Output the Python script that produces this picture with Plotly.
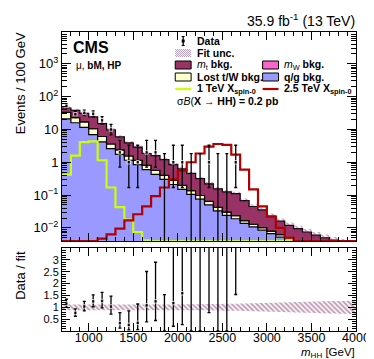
import numpy as np
import plotly.graph_objects as go

# ---------------- data ----------------
bin_edges = list(range(700, 4001, 100))   # m_HH bins [GeV]

qg_bkg = [21, 16, 11.5, 7.0, 4.2, 2.6, 1.75, 1.15, 0.85, 0.6, 0.43, 0.3, 0.21, 0.15,
          0.105, 0.075, 0.05, 0.033, 0.024, 0.019, 0.0137, 0.0107, 0.0085, 0.0067,
          0.0052, 0.0042, 0.0035, 0.0028, 0.0022, 0.0018, 0.0015, 0.0012, 0.001]
lost_bkg = [12, 7, 5.5, 3.5, 1.9, 1.0, 0.62, 0.4, 0.29, 0.2, 0.14, 0.1, 0.07, 0.048,
            0.032, 0.022, 0.014, 0.009, 0.006, 0.0045, 0.003, 0.0022, 0.0017, 0.0013,
            0.001, 0.0008, 0.0006, 0.0005, 0.0004, 0.0003, 0.00025, 0.0002, 0.00015]
mw_bkg = [0, 0, 0, 0, 0, 0, 0, 0, 0, 0, 0, 0, 0, 0, 0, 0, 0, 0, 0, 0, 0, 0, 0, 0,
          0, 0, 0, 0, 0, 0, 0, 0, 0]
mt_bkg = [12, 15, 14, 13.5, 8.9, 6.1, 3.6, 2.35, 1.76, 1.05, 1.03, 0.8, 0.57, 0.43,
          0.32, 0.22, 0.156, 0.113, 0.095, 0.087, 0.051, 0.032, 0.025, 0.015, 0.0098,
          0.007, 0.0054, 0.0042, 0.0034, 0.0029, 0.0025, 0.0022, 0.0019]
fit_unc_rel = [0.13, 0.12, 0.12, 0.12, 0.12, 0.12, 0.12, 0.12, 0.12, 0.12, 0.12, 0.12,
               0.12, 0.13, 0.13, 0.13, 0.14, 0.14, 0.15, 0.15, 0.16, 0.17, 0.18, 0.19,
               0.2, 0.21, 0.22, 0.23, 0.24, 0.25, 0.26, 0.27, 0.28]
sig_1tev = [0.42, 1.6, 4.1, 4.3, 1.15, 0.17, 0.043, 0.018, 0.0075, 0.0042, 0, 0, 0, 0,
            0, 0, 0, 0, 0, 0, 0, 0, 0, 0, 0, 0, 0, 0, 0, 0, 0, 0, 0]
sig_2p5tev = [0, 0, 0, 0.0035, 0.0047, 0.0063, 0.0095, 0.017, 0.026, 0.045, 0.093, 0.17,
              0.3, 0.55, 1.0, 1.85, 3.0, 3.6, 3.4, 1.7, 0.6, 0.15, 0.045, 0.022, 0.01,
              0.005, 0, 0, 0, 0, 0, 0, 0]

data_counts = [52, 29, 32, 30, 19, 10, 2, 1, 1, 2, 2, 0, 1, 1, 0, 0, 1, 0, 0, 1]
data_err_lo = [7.19, 5.35, 5.63, 5.45, 4.32, 3.11, 1.29, 0.83, 0.83, 1.29, 1.29, 0.0,
               0.83, 0.83, 0.0, 0.0, 0.83, 0.0, 0.0, 0.83]
data_err_hi = [8.27, 6.45, 6.72, 6.54, 5.44, 4.27, 2.64, 2.30, 2.30, 2.64, 2.64, 1.84,
               2.30, 2.30, 1.84, 1.84, 2.30, 1.84, 1.84, 2.30]

x_tick_vals = [1000, 1500, 2000, 2500, 3000, 3500, 4000]
x_tick_text = ["1000", "1500", "2000", "2500", "3000", "3500", "4000"]
y_tick_vals = [1e-2, 1e-1, 1, 10, 100, 1000]
y_tick_text = ["10<sup>\u22122</sup>", "10<sup>\u22121</sup>", "1", "10", "10<sup>2</sup>", "10<sup>3</sup>"]
r_tick_vals = [0.5, 1, 1.5, 2, 2.5, 3]
r_tick_text = ["0.5", "1", "1.5", "2", "2.5", "3"]

# ---------------- styling ----------------
W, H = 374, 359
ML, MR, MT, MB = 54, 24, 24, 36
PW, PH = W - ML - MR, H - MT - MB
YLOG = (-2.4, 3.97)
FLOOR = 10 ** YLOG[0]
FONT = "Liberation Sans, Arial, Helvetica, sans-serif"

C_QG = "#9999ff"
C_LOST = "#ffffcc"
C_MW = "#ff66cc"
C_MT = "#993366"
C_S1 = "#ccff00"
C_S2 = "#b00000"
C_UNC = "rgb(115,40,95)"


def px(x):
    return (x - ML) / PW


def py(y):
    return (H - MB - y) / PH


edges = np.array(bin_edges, float)
centers = 0.5 * (edges[:-1] + edges[1:])
nb = len(edges) - 1

qg = np.array(qg_bkg, float)
lost = np.array(lost_bkg, float)
mw = np.array(mw_bkg, float)
mt = np.array(mt_bkg, float)
lvl1 = qg
lvl2 = lvl1 + lost
lvl3 = lvl2 + mw
total = lvl3 + mt
unc = np.array(fit_unc_rel, float)


def step(v, clamp=True):
    v = np.asarray(v, float)
    if clamp:
        v = np.maximum(v, FLOOR)
    return np.append(v, v[-1])


fig = go.Figure()

# base for the stack
fig.add_trace(go.Scatter(x=edges, y=step(np.zeros(nb)), mode="lines", line=dict(width=0),
                         line_shape="hv", showlegend=False, hoverinfo="skip",
                         xaxis="x", yaxis="y"))
for lvl, col in [(lvl1, C_QG), (lvl2, C_LOST), (lvl3, C_MW), (total, C_MT)]:
    fig.add_trace(go.Scatter(x=edges, y=step(lvl), mode="lines", line_shape="hv",
                             line=dict(color="black", width=1.2), fill="tonexty",
                             fillcolor=col, showlegend=False, xaxis="x", yaxis="y"))
# fit uncertainty band
fig.add_trace(go.Scatter(x=edges, y=step(total * (1 - unc)), mode="lines", line_shape="hv",
                         line=dict(width=0), showlegend=False, xaxis="x", yaxis="y"))
fig.add_trace(go.Scatter(x=edges, y=step(total * (1 + unc)), mode="lines", line_shape="hv",
                         line=dict(width=0), fill="tonexty", fillcolor="rgba(0,0,0,0)",
                         fillpattern=dict(shape="\\", fgcolor=C_UNC, bgcolor="rgba(0,0,0,0)",
                                          size=4, solidity=0.35),
                         showlegend=False, xaxis="x", yaxis="y"))
# signals
fig.add_trace(go.Scatter(x=edges, y=step(sig_1tev), mode="lines", line_shape="hv",
                         line=dict(color=C_S1, width=2.2), showlegend=False, xaxis="x", yaxis="y"))
fig.add_trace(go.Scatter(x=edges, y=step(sig_2p5tev), mode="lines", line_shape="hv",
                         line=dict(color=C_S2, width=2.2), showlegend=False, xaxis="x", yaxis="y"))

# data
nd = len(data_counts)
dc = np.array(data_counts, float)
dlo = np.array(data_err_lo, float)
dhi = np.array(data_err_hi, float)
dx = centers[:nd]
dy = np.where(dc > 0, dc, FLOOR * 1e-3)
msize = np.where(dc > 0, 3.5, 0)
fig.add_trace(go.Scatter(x=dx, y=dy, mode="markers",
                         marker=dict(symbol="square", size=msize, color="black"),
                         error_y=dict(type="data", symmetric=False, array=dhi, arrayminus=np.minimum(dlo, dy * 0.999),
                                      color="black", thickness=1.3, width=1.5),
                         showlegend=False, xaxis="x", yaxis="y"))

# ratio panel
fig.add_trace(go.Scatter(x=edges, y=step(1 - unc, False), mode="lines", line_shape="hv",
                         line=dict(width=0), showlegend=False, xaxis="x2", yaxis="y2"))
fig.add_trace(go.Scatter(x=edges, y=step(1 + unc, False), mode="lines", line_shape="hv",
                         line=dict(width=0), fill="tonexty", fillcolor="rgba(0,0,0,0)",
                         fillpattern=dict(shape="\\", fgcolor=C_UNC, bgcolor="rgba(0,0,0,0)",
                                          size=3.5, solidity=0.5),
                         showlegend=False, xaxis="x2", yaxis="y2"))
tot_d = total[:nd]
fig.add_trace(go.Scatter(x=dx, y=dc / tot_d, mode="markers",
                         marker=dict(symbol="square", size=msize, color="black"),
                         error_y=dict(type="data", symmetric=False, array=dhi / tot_d,
                                      arrayminus=dlo / tot_d, color="black", thickness=1.3, width=1.5),
                         showlegend=False, xaxis="x2", yaxis="y2"))

# ---------------- axes ----------------
axfont = dict(family=FONT, size=13, color="black")
xfont = dict(family=FONT, size=12.5, color="black")
rfont = dict(family=FONT, size=11, color="black")
minor_x = [v for v in range(800, 4000, 100) if v not in x_tick_vals]
minor_y = [m * 10.0 ** k for k in range(-3, 4) for m in range(2, 10)]
minor_r = [round(0.1 * i, 1) for i in range(1, 35) if round(0.1 * i, 1) not in r_tick_vals]
common = dict(showgrid=False, zeroline=False, showline=True, linecolor="black", linewidth=1,
              mirror="allticks", ticks="inside", tickcolor="black", tickwidth=1)

fig.update_layout(
    width=W, height=H, autosize=False,
    margin=dict(l=ML, r=MR, t=MT, b=MB, pad=0),
    paper_bgcolor="white", plot_bgcolor="white",
    font=dict(family=FONT, color="black"),
    xaxis=dict(domain=[0, 1], range=[700, 4000], anchor="y", tickvals=x_tick_vals,
               showticklabels=False, ticklen=8, tickfont=axfont,
               minor=dict(tickvals=minor_x, ticks="inside", ticklen=4, tickcolor="black"), **common),
    yaxis=dict(domain=[py(233), 1], type="log", range=list(YLOG), anchor="x",
               tickvals=y_tick_vals, ticktext=y_tick_text, ticklen=9, tickfont=axfont,
               minor=dict(tickvals=minor_y, ticks="inside", ticklen=5, tickcolor="black"), **common),
    xaxis2=dict(domain=[0, 1], range=[700, 4000], anchor="y2", tickvals=x_tick_vals,
                ticktext=x_tick_text, ticklen=8, tickfont=xfont, ticklabelstandoff=-5,
                minor=dict(tickvals=minor_x, ticks="inside", ticklen=4, tickcolor="black"), **common),
    yaxis2=dict(domain=[0, py(240)], range=[0, 3.5], anchor="x2", tickvals=r_tick_vals,
                ticktext=r_tick_text, ticklen=8, tickfont=rfont,
                minor=dict(tickvals=minor_r, ticks="inside", ticklen=4, tickcolor="black"), **common),
)

# ---------------- texts and legend ----------------
ann = []


def text(x, y, s, size=10.5, xanchor="left", yanchor="middle", angle=0):
    ann.append(dict(x=px(x), y=py(y), xref="paper", yref="paper", text=s, showarrow=False,
                    xanchor=xanchor, yanchor=yanchor, textangle=angle,
                    font=dict(family=FONT, size=size, color="black")))


text(351, 12, "35.9 fb<sup>-1</sup> (13 TeV)", size=14, xanchor="right")
text(63, 40, "<b>CMS</b>", size=16)
text(66, 57, "\u03bc, <b>bM, HP</b>", size=10)
text(12, 22, "Events / 100 GeV", size=13, xanchor="center", yanchor="top", angle=-90)
text(12, 241, "Data / fit", size=13, xanchor="center", yanchor="top", angle=-90)
text(351, 345, "<i>m</i><sub>HH</sub> [GeV]", size=11.5, xanchor="right", yanchor="middle")

shapes = []
rows = [33, 45, 57, 69, 81, 93]
c1x, c2x = 168, 256


def box(x0, yc, col):
    shapes.append(dict(type="rect", xref="paper", yref="paper", x0=px(x0), x1=px(x0 + 16),
                       y0=py(yc + 4), y1=py(yc - 4), fillcolor=col,
                       line=dict(color="black", width=1)))


def hline(x0, yc, col):
    shapes.append(dict(type="line", xref="paper", yref="paper", x0=px(x0), x1=px(x0 + 16),
                       y0=py(yc), y1=py(yc), line=dict(color=col, width=2.2)))


# data symbol
xd = c1x + 8
shapes.append(dict(type="line", xref="paper", yref="paper", x0=px(xd), x1=px(xd),
                   y0=py(rows[0] + 4.5), y1=py(rows[0] - 4.5), line=dict(color="black", width=1.3)))
for yy in (rows[0] + 4.5, rows[0] - 4.5):
    shapes.append(dict(type="line", xref="paper", yref="paper", x0=px(xd - 1.5), x1=px(xd + 1.5),
                       y0=py(yy), y1=py(yy), line=dict(color="black", width=1)))
shapes.append(dict(type="rect", xref="paper", yref="paper", x0=px(xd - 1.5), x1=px(xd + 1.5),
                   y0=py(rows[0] + 1.5), y1=py(rows[0] - 1.5), fillcolor="black", line=dict(width=0)))
# hatch symbol
hx0, hx1, hy0, hy1 = c1x, c1x + 16, rows[1] - 4, rows[1] + 4
for d in np.arange(-8, 17, 2.0):
    xa, ya, xb, yb = hx0 + d, hy0, hx0 + d + 8, hy1
    if xa < hx0:
        ya = ya + (hx0 - xa); xa = hx0
    if xb > hx1:
        yb = yb - (xb - hx1); xb = hx1
    if xb > xa:
        shapes.append(dict(type="line", xref="paper", yref="paper", x0=px(xa), x1=px(xb),
                           y0=py(ya), y1=py(yb), line=dict(color="rgb(150,120,160)", width=0.8)))
box(c1x, rows[2], C_MT)
box(c1x, rows[3], C_LOST)
hline(c1x, rows[4], C_S1)
box(c2x, rows[2], C_MW)
box(c2x, rows[3], C_QG)
hline(c2x, rows[4], C_S2)

tx1, tx2 = c1x + 20, c2x + 19
text(tx1, rows[0], "<b>Data</b>")
text(tx1, rows[1], "<b>Fit unc.</b>")
text(tx1, rows[2], "<i>m</i><sub>t</sub><b> bkg.</b>")
text(tx1, rows[3], "<b>Lost t/W bkg.</b>")
text(tx1, rows[4], "<b>1 TeV X</b><sub><b>spin-0</b></sub>")
text(tx2, rows[2], "<i>m</i><sub>W</sub><b> bkg.</b>")
text(tx2, rows[3], "<b>q/g bkg.</b>")
text(tx2, rows[4], "<b>2.5 TeV X</b><sub><b>spin-0</b></sub>")
text(c1x, rows[5], "\u03c3<i>B</i>(<b>X \u2192 HH) = 0.2 pb</b>")

fig.update_layout(annotations=ann, shapes=shapes)
fig.write_html("out.html")
